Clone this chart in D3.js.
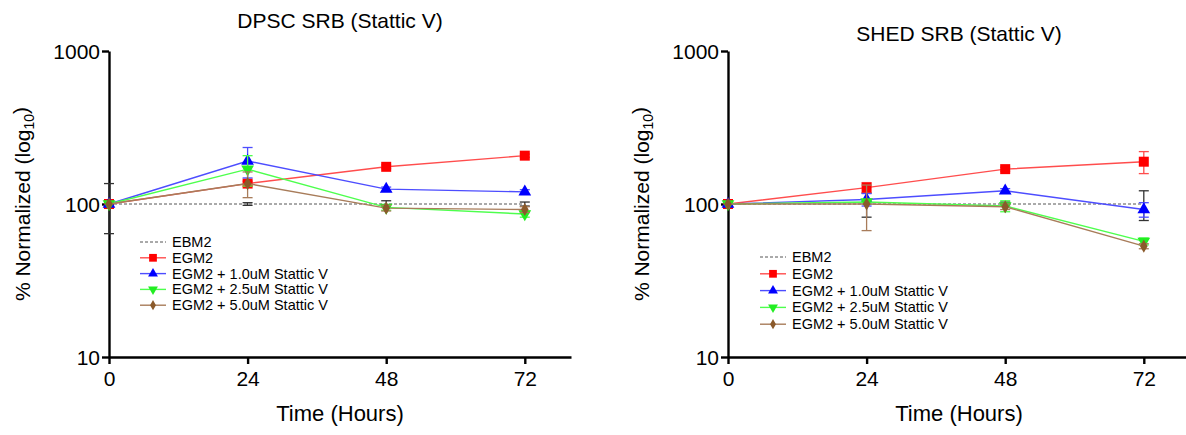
<!DOCTYPE html>
<html>
<head>
<meta charset="utf-8">
<script src="https://cdn.jsdelivr.net/npm/d3@7/dist/d3.min.js"></script>
<style>
  body { margin: 0; background: #fff; }
  svg text { font-family: "Liberation Sans", Arial, sans-serif; fill: #000; }
  .axis path, .axis line { stroke: #000; stroke-width: 2.4; }
  .axis text { font-size: 21px; }
</style>
</head>
<body>
<div id="chart"></div>
<script>
// Time points (hours)
var times = [0, 24, 48, 72];
var xTicks = [0, 24, 48, 72];
var yTicks = [10, 100, 1000];
var seriesNames = ["EBM2", "EGM2", "EGM2 + 1.0uM Stattic V", "EGM2 + 2.5uM Stattic V", "EGM2 + 5.0uM Stattic V"];

// DPSC values (% normalized) and SEM
var dpscEBM2 = [100, 100, 100, 100];
var dpscEBM2Err = [36, 2, 5, 3];
var dpscEGM2 = [100, 136, 175, 207];
var dpscEGM2Err = [3, 5, 5, 5];
var dpscLow = [100, 191, 125, 120];
var dpscLowErr = [0, 43, 4, 4];
var dpscMid = [100, 169, 95, 86];
var dpscMidErr = [0, 38, 4, 4];
var dpscHigh = [100, 136, 94, 92];
var dpscHighErr = [0, 26, 4, 4];

// SHED values (% normalized) and SEM
var shedEBM2 = [100, 100, 100, 100];
var shedEBM2Err = [2, 18, 3, 22];
var shedEGM2 = [100, 128, 169, 189];
var shedEGM2Err = [4, 10, 5, 31];
var shedLow = [100, 107, 122, 92];
var shedLowErr = [0, 10, 4, 10];
var shedMid = [100, 103, 97, 57];
var shedMidErr = [0, 3, 8, 3];
var shedHigh = [100, 100, 96, 53];
var shedHighErr = [0, 33, 4, 2];

// Styles per series
var styles = [
    { line: "#555", marker: null, err: "#333", dash: "3,2" },
    { line: "#ff4d4d", marker: "square", fill: "#ff0000", err: "#ff4d4d" },
    { line: "#4d4dff", marker: "triangle", fill: "#0000ff", err: "#4d4dff" },
    { line: "#4dff4d", marker: "down", fill: "#22ee22", err: "#4dff4d" },
    { line: "#a87c5a", marker: "diamond", fill: "#8b5a2b", err: "#a87c5a" }
];

var width = 1186, height = 435;

var svg = d3.select("#chart")
    .append("svg")
    .attr("width", width)
    .attr("height", height);

// Marker shapes
function symbolPath(type, size) {
    if (type === "square") return d3.symbol().type(d3.symbolSquare).size(size)();
    if (type === "triangle") return d3.symbol().type(d3.symbolTriangle).size(size * 0.7)();
    if (type === "down") return d3.symbol().type(d3.symbolTriangle).size(size * 0.7)();
    if (type === "diamond") return d3.symbol().type(d3.symbolDiamond).size(size * 0.5)();
    return null;
}

function drawPanel(cfg) {
    var x = d3.scaleLinear().domain([0, 80]).range([cfg.left, cfg.left + 462]);
    var y = d3.scaleLog().domain([10, 1000]).range([357, 51]);

    var g = svg.append("g");

    // Axes
    g.append("g")
        .attr("class", "axis")
        .attr("transform", "translate(0,357)")
        .call(d3.axisBottom(x).tickValues(xTicks).tickSize(7).tickPadding(4).tickSizeOuter(0))
        .selectAll("text").attr("dy", "0.85em");

    g.append("g")
        .attr("class", "axis")
        .attr("transform", "translate(" + cfg.left + ",0)")
        .call(d3.axisLeft(y).tickValues(yTicks).tickFormat(d3.format("d")).tickSize(7).tickPadding(2).tickSizeOuter(0))
        .selectAll("text").attr("dy", "0.36em");

    // Series
    cfg.series.forEach(function(s, i) {
        var st = styles[i];
        var pts = times.map(function(t, j) { return { t: t, v: s.values[j], e: s.err[j] }; });

        var line = d3.line()
            .x(function(d) { return x(d.t); })
            .y(function(d) { return y(d.v); });

        // Error bars
        var eb = g.append("g").attr("stroke", st.err).attr("stroke-width", 1.3);
        pts.filter(function(d) { return d.e > 0; }).forEach(function(d) {
            var cx = x(d.t), y1 = y(d.v + d.e), y2 = y(Math.max(d.v - d.e, 10.5));
            eb.append("line").attr("x1", cx).attr("x2", cx).attr("y1", y1).attr("y2", y2);
            eb.append("line").attr("x1", cx - 5).attr("x2", cx + 5).attr("y1", y1).attr("y2", y1);
            eb.append("line").attr("x1", cx - 5).attr("x2", cx + 5).attr("y1", y2).attr("y2", y2);
        });

        g.append("path")
            .datum(pts)
            .attr("fill", "none")
            .attr("stroke", st.line)
            .attr("stroke-width", st.dash ? 1 : 1.4)
            .attr("stroke-dasharray", st.dash || null)
            .attr("d", line);

        if (st.marker) {
            g.selectAll(".m" + i)
                .data(pts)
                .enter().append("path")
                .attr("d", symbolPath(st.marker, 100))
                .attr("fill", st.fill)
                .attr("transform", function(d) {
                    return "translate(" + x(d.t) + "," + y(d.v) + ")" + (st.marker === "down" ? " rotate(180)" : "");
                });
        }
    });

    // Legend
    var lg = g.append("g").attr("transform", "translate(" + cfg.legendX + "," + cfg.legendY + ")");
    seriesNames.forEach(function(name, i) {
        var st = styles[i];
        var row = lg.append("g").attr("transform", "translate(0," + (i * cfg.legendStep) + ")");
        row.append("line")
            .attr("x1", 0).attr("x2", 26).attr("y1", 0).attr("y2", 0)
            .attr("stroke", st.line)
            .attr("stroke-width", st.dash ? 1 : 1.4)
            .attr("stroke-dasharray", st.dash || null);
        if (st.marker) {
            row.append("path")
                .attr("d", symbolPath(st.marker, 60))
                .attr("fill", st.fill)
                .attr("transform", "translate(13,0)" + (st.marker === "down" ? " rotate(180)" : ""));
        }
        row.append("text")
            .attr("x", 32).attr("y", 0).attr("dy", "0.35em")
            .style("font-size", "14.5px")
            .text(name);
    });

    // Title and axis labels
    g.append("text")
        .attr("x", cfg.left + 231).attr("y", cfg.titleY)
        .attr("text-anchor", "middle")
        .style("font-size", "21px")
        .text(cfg.title);

    g.append("text")
        .attr("x", cfg.left + 231).attr("y", 421)
        .attr("text-anchor", "middle")
        .style("font-size", "22px")
        .text("Time (Hours)");

    var yl = g.append("text")
        .attr("transform", "translate(" + cfg.yLabelX + ",204) rotate(-90)")
        .attr("text-anchor", "middle")
        .style("font-size", "21px");
    yl.append("tspan").text("% Normalized (log");
    yl.append("tspan").attr("dy", "0.3em").style("font-size", "14px").text("10");
    yl.append("tspan").attr("dy", "-0.3em").text(")");
}

drawPanel({
    left: 109,
    title: "DPSC SRB (Stattic V)",
    titleY: 28,
    yLabelX: 30,
    legendX: 140,
    legendY: 242,
    legendStep: 15.8,
    series: [
        { values: dpscEBM2, err: dpscEBM2Err },
        { values: dpscEGM2, err: dpscEGM2Err },
        { values: dpscLow, err: dpscLowErr },
        { values: dpscMid, err: dpscMidErr },
        { values: dpscHigh, err: dpscHighErr }
    ]
});

drawPanel({
    left: 728,
    title: "SHED SRB (Stattic V)",
    titleY: 41,
    yLabelX: 649,
    legendX: 760,
    legendY: 257,
    legendStep: 16.8,
    series: [
        { values: shedEBM2, err: shedEBM2Err },
        { values: shedEGM2, err: shedEGM2Err },
        { values: shedLow, err: shedLowErr },
        { values: shedMid, err: shedMidErr },
        { values: shedHigh, err: shedHighErr }
    ]
});
</script>
</body>
</html>
